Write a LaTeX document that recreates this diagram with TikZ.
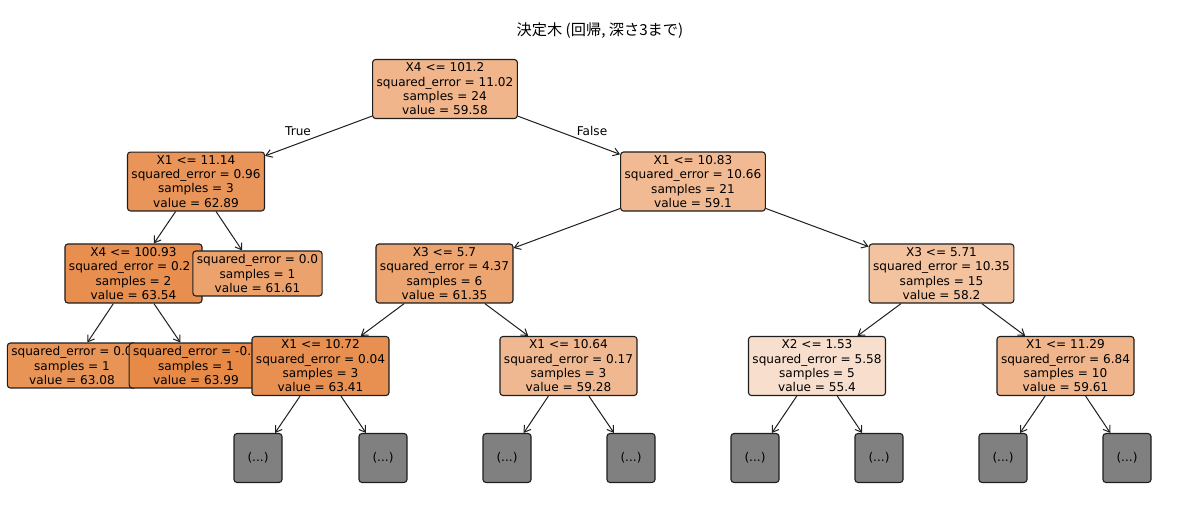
\documentclass[tikz,border=0pt]{standalone}
\usepackage{fontspec}
\setmainfont{DejaVu Sans}
\newfontfamily\jpfont{Noto Sans CJK JP}
\usetikzlibrary{arrows.meta}
\definecolor{skorange}{RGB}{229,129,57}
\definecolor{boxgray}{RGB}{128,128,128}
\definecolor{edgeblack}{RGB}{30,30,30}
\tikzset{
  tree/.style={draw=edgeblack, line width=1.1pt, rounded corners=3pt, align=center,
    inner xsep=4pt, inner ysep=3.5pt, font=\fontsize{12.1}{14.3}\selectfont},
  more/.style={tree, fill=boxgray, minimum width=48pt, minimum height=49pt, inner sep=0pt},
  link/.style={draw=edgeblack, line width=1pt, -{Straight Barb[length=6pt,width=8pt]}},
  lbl/.style={font=\fontsize{12.1}{14.3}\selectfont}
}
\begin{document}
\begin{tikzpicture}[x=1pt,y=-1pt]
\useasboundingbox (0,0) rectangle (1200,512);
\node[font=\jpfont\fontsize{15.2}{17}\selectfont] (title) at (600,31) {決定木 (回帰, 深さ3まで)};

\node[tree, fill=skorange!59!white] (root) at (445,89) {X4 <= 101.2\\squared\_error = 11.02\\samples = 24\\value = 59.58};
\node[tree, fill=skorange!84!white] (l1) at (196,181.5) {X1 <= 11.14\\squared\_error = 0.96\\samples = 3\\value = 62.89};
\node[tree, fill=skorange!55!white] (r1) at (693,181.5) {X1 <= 10.83\\squared\_error = 10.66\\samples = 21\\value = 59.1};

\node[tree, fill=skorange!89!white] (l2) at (133.5,273.5) {X4 <= 100.93\\squared\_error = 0.2\phantom{5}\\samples = 2\\value = 63.54};
\node[tree, fill=skorange!74!white] (leafc) at (257.5,273.5) {squared\_error = 0.0\\samples = 1\\value = 61.61};
\node[tree, fill=skorange!72!white] (x3a) at (444.5,273.5) {X3 <= 5.7\\squared\_error = 4.37\\samples = 6\\value = 61.35};
\node[tree, fill=skorange!48!white] (x3b) at (941.5,273.5) {X3 <= 5.71\\squared\_error = 10.35\\samples = 15\\value = 58.2};

\node[tree, fill=skorange!85!white] (leafa) at (72,365.5) {squared\_error = 0.0\\samples = 1\\value = 63.08};
\node[tree, fill=skorange!93!white] (leafb) at (196,365.5) {squared\_error = -0.0\\samples = 1\\value = 63.99};
\node[tree, fill=skorange!88!white] (x1a) at (320.5,366) {X1 <= 10.72\\squared\_error = 0.04\\samples = 3\\value = 63.41};
\node[tree, fill=skorange!56!white] (x1b) at (568.5,366) {X1 <= 10.64\\squared\_error = 0.17\\samples = 3\\value = 59.28};
\node[tree, fill=skorange!26!white] (x2) at (817,366) {X2 <= 1.53\\squared\_error = 5.58\\samples = 5\\value = 55.4};
\node[tree, fill=skorange!59!white] (x1c) at (1065.5,366) {X1 <= 11.29\\squared\_error = 6.84\\samples = 10\\value = 59.61};

\node[more] (g1) at (258,458) {(...)};
\node[more] (g2) at (383,458) {(...)};
\node[more] (g3) at (507,458) {(...)};
\node[more] (g4) at (631,458) {(...)};
\node[more] (g5) at (755,458) {(...)};
\node[more] (g6) at (879,458) {(...)};
\node[more] (g7) at (1003,458) {(...)};
\node[more] (g8) at (1127,458) {(...)};

\draw[link] (root) -- (l1);
\draw[link] (root) -- (r1);
\node[lbl] (ltrue) at (298,131) {True};
\node[lbl] (lfalse) at (592,131) {False};
\draw[link] (l1) -- (l2);
\draw[link] (l1) -- (leafc);
\draw[link] (l2) -- (leafa);
\draw[link] (l2) -- (leafb);
\draw[link] (r1) -- (x3a);
\draw[link] (r1) -- (x3b);
\draw[link] (x3a) -- (x1a);
\draw[link] (x3a) -- (x1b);
\draw[link] (x3b) -- (x2);
\draw[link] (x3b) -- (x1c);
\draw[link] (x1a) -- (g1);
\draw[link] (x1a) -- (g2);
\draw[link] (x1b) -- (g3);
\draw[link] (x1b) -- (g4);
\draw[link] (x2) -- (g5);
\draw[link] (x2) -- (g6);
\draw[link] (x1c) -- (g7);
\draw[link] (x1c) -- (g8);
\end{tikzpicture}
\end{document}
